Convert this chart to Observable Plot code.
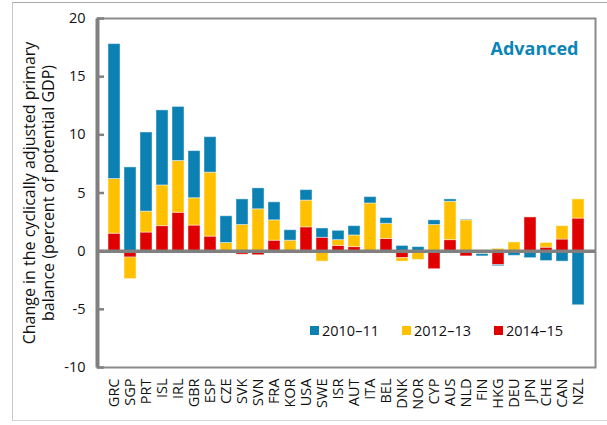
<!DOCTYPE html>
<html>
<head>
<meta charset="utf-8">
<script src="https://cdn.jsdelivr.net/npm/d3@7"></script>
<script src="https://cdn.jsdelivr.net/npm/@observablehq/plot@0.6"></script>
<style>
  html, body { margin: 0; padding: 0; background: #fff; }
  #wrap { position: relative; width: 607px; height: 425px; overflow: hidden; font-family: "Open Sans", "Noto Sans", sans-serif; }
  #border { position: absolute; left: 12px; top: 2px; width: 620px; height: 419px; border-top: 1px solid #a8a8a8; border-left: 1px solid #c8c8c8; border-bottom: 1px solid #d8d8d8; box-sizing: border-box; }
  #legend { position: absolute; top: 321px; left: 310px; display: flex; align-items: center; font-size: 14.5px; color: #111; white-space: nowrap; }
  #legend .item { display: flex; align-items: center; margin-right: 23px; }
  #legend .sw { width: 9px; height: 9px; margin-right: 3px; }
  svg { position: absolute; left: 0; top: 0; }
</style>
</head>
<body>
<div id="wrap">
  <div id="border"></div>
  <div id="chart"></div>
  <div id="legend"></div>
</div>
<script>
const countries = ["GRC","SGP","PRT","ISL","IRL","GBR","ESP","CZE","SVK","SVN","FRA","KOR","USA","SWE","ISR","AUT","ITA","BEL","DNK","NOR","CYP","AUS","NLD","FIN","HKG","DEU","JPN","CHE","CAN","NZL"];
const v2010_11 = [11.6, 7.2, 6.8, 6.45, 4.65, 4.05, 3.05, 2.3, 2.2, 1.8, 1.55, 0.9, 0.9, 0.8, 0.8, 0.8, 0.55, 0.5, 0.45, 0.35, 0.4, 0.2, 0.05, -0.2, -0.1, -0.4, -0.6, -0.85, -0.9, -4.65];
const v2012_13 = [4.7, -1.85, 1.8, 3.5, 4.45, 2.35, 5.5, 0.7, 2.25, 3.6, 1.75, 0.9, 2.3, -0.9, 0.5, 1.0, 4.1, 1.3, -0.3, -0.75, 2.25, 3.3, 2.65, -0.15, 0.2, 0.75, 0, 0.4, 1.15, 1.65];
const v2014_15 = [1.5, -0.55, 1.6, 2.15, 3.3, 2.2, 1.25, -0.15, -0.3, -0.35, 0.9, 0, 2.05, 1.15, 0.45, 0.35, 0, 1.05, -0.6, 0, -1.55, 0.95, -0.45, -0.1, -1.2, 0, 2.9, 0.3, 1.0, 2.8];
const seriesNames = ["2010–11", "2012–13", "2014–15"];
const seriesColors = ["#0b80b3", "#ffc000", "#e00000"];
const yTicks = [-10, -5, 0, 5, 10, 15, 20];
const yLabel = "Change in the cyclically adjusted primary\nbalance (percent of potential GDP)";
const panelTitle = "Advanced";

// stacking order: 2014–15 nearest zero, then 2012–13, then 2010–11
const stackOrder = [[seriesNames[2], v2014_15], [seriesNames[1], v2012_13], [seriesNames[0], v2010_11]];
const data = [];
for (const [name, vals] of stackOrder) {
  countries.forEach((c, i) => data.push({country: c, series: name, value: vals[i]}));
}

const W = 607, H = 425, ML = 97, MR = 12, MT = 18, MB = 58;
const plotW = W - ML - MR;
const gray = "#808080";

const chart = Plot.plot({
  width: W, height: H,
  marginLeft: ML, marginRight: MR, marginTop: MT, marginBottom: MB,
  style: {fontFamily: "'Open Sans', 'Noto Sans', sans-serif", fontSize: "14px", color: "#111", background: "transparent"},
  x: {domain: countries, paddingInner: 0.28, paddingOuter: 0.14, label: null},
  y: {domain: [-10, 20], label: null},
  color: {domain: seriesNames, range: seriesColors},
  marks: [
    Plot.frame({stroke: "#8a8a8a", strokeWidth: 2}),
    Plot.barY(data, {x: "country", y: "value", fill: "series", stroke: "white", strokeOpacity: 0.45, strokeWidth: 1}),
    Plot.ruleY([0], {stroke: gray, strokeWidth: 3.5}),
    Plot.frame({fill: gray, stroke: "none", insetLeft: -2, insetRight: plotW - 2}),
    Plot.tickY(yTicks, {y: d => d, stroke: gray, strokeWidth: 2.5, insetLeft: 0, insetRight: plotW - 7}),
    Plot.axisY({ticks: yTicks, tickSize: 0, tickPadding: 12, fontSize: 14.5, label: null, tickFormat: d => String(d)}),
    Plot.axisX({tickSize: 0, tickRotate: -90, tickPadding: 11, fontSize: 14.5, label: null}),
    Plot.text([yLabel], {frameAnchor: "left", textAnchor: "middle", rotate: -90, dx: -59, dy: 0, fontSize: 16, lineHeight: 1.15, fill: "#111"}),
    Plot.text([panelTitle], {frameAnchor: "top-right", dx: -17, dy: 24, fontSize: 18, fontWeight: "bold", fill: "#0a85b8", textAnchor: "end"})
  ]
});
document.getElementById("chart").appendChild(chart);

const legend = document.getElementById("legend");
seriesNames.forEach((n, i) => {
  const it = document.createElement("div");
  it.className = "item";
  const sw = document.createElement("div");
  sw.className = "sw";
  sw.style.background = seriesColors[i];
  const t = document.createElement("span");
  t.textContent = n;
  it.appendChild(sw); it.appendChild(t);
  legend.appendChild(it);
});
</script>
</body>
</html>
